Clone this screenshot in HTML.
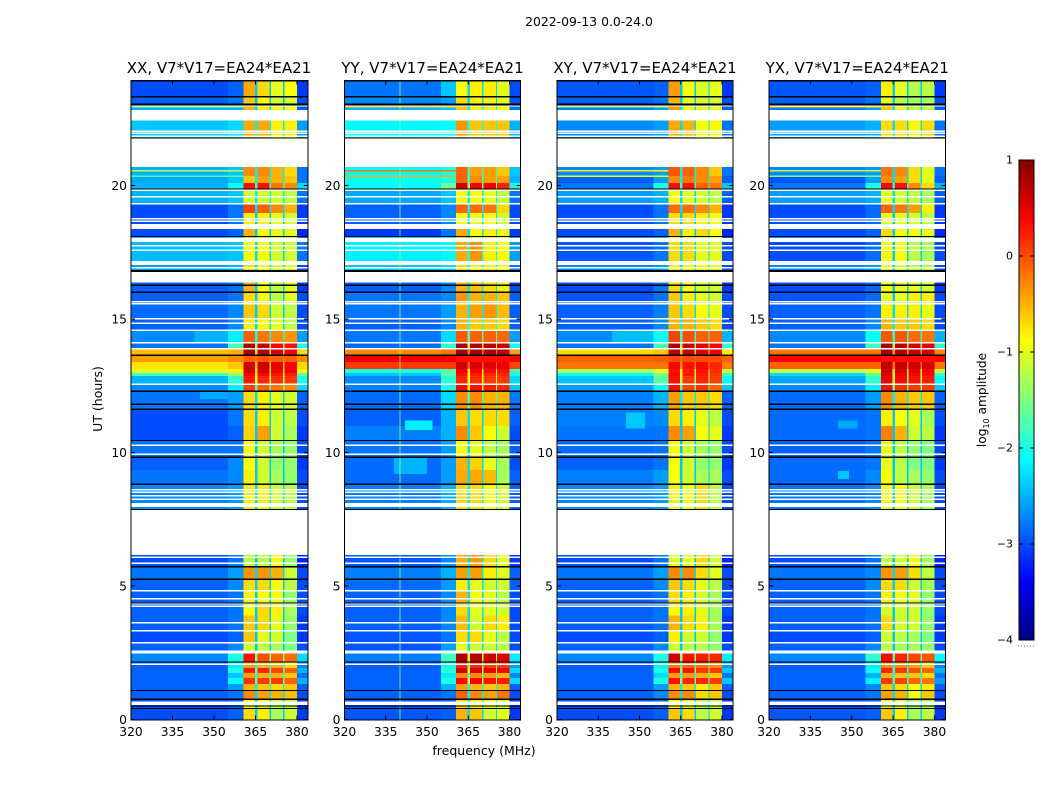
<!DOCTYPE html>
<html>
<head>
<meta charset="utf-8">
<title>2022-09-13 0.0-24.0</title>
<style>
html,body{margin:0;padding:0;background:#fff;}
svg{display:block;}
text{font-family:"DejaVu Sans","Liberation Sans",sans-serif;fill:#000;}
</style>
</head>
<body>
<svg id="figure" xmlns="http://www.w3.org/2000/svg" width="1050" height="800" viewBox="0 0 1050 800">
<rect width="1050" height="800" fill="#fff"/>
<text x="589" y="26" text-anchor="middle" font-size="12.4">2022-09-13 0.0-24.0</text>
<text x="484" y="755" text-anchor="middle" font-size="12.5">frequency (MHz)</text>
<text transform="translate(102,399) rotate(-90)" text-anchor="middle" font-size="12.5">UT (hours)</text>
<text transform="translate(986,400) rotate(-90)" text-anchor="middle" font-size="12.2">log<tspan font-size="8" dy="3">10</tspan><tspan dy="-3"> amplitude</tspan></text>
</svg>
<script>
// ---- shared axes data ----
const panelTitles = ['XX, V7*V17=EA24*EA21','YY, V7*V17=EA24*EA21','XY, V7*V17=EA24*EA21','YX, V7*V17=EA24*EA21'];
const freqTicks = [320,335,350,365,380];
const utTicks = [0,5,10,15,20];
const colorbarTicks = [1,0,-1,-2,-3,-4];
const colorbarLabels = ['1','0','\u22121','\u22122','\u22123','\u22124'];

// frequency bins (MHz); binLevelIndex says which entry of a row each bin reads
const freqBins = [320,355,360.6,364.8,365.7,370,370.6,375,375.5,380,384];
const binLevelIndex = [0,1,2,6,3,6,4,6,5,7];

// time bands (UT hours)
const bandEdges = [0,.41,.76,1.09,1.33,1.55,1.74,1.93,2.15,2.48,2.9,3.33,3.9,4.33,4.83,5.25,5.71,6.16,7.87,8.81,9.34,9.82,10.45,11,11.62,12.29,12.57,12.87,12.97,13.13,13.39,13.64,13.88,14.14,14.59,15.04,15.6,16.01,16.42,16.8,17.17,17.88,18.11,18.37,18.97,19.31,19.87,20.09,20.36,20.69,21.78,22.47,22.83,23.03,23.32,23.93];

// flagged (missing) data, UT hours
const flaggedBands = [[22.51,22.83],[20.69,21.77],[18.37,18.56],[17.88,18.03],[17.02,17.17],[16.42,16.72],[7.96,8.11],[6.16,7.85],[2.48,2.58],[0.54,0.67]];
const flaggedLines = [22.99,22.47,22.03,21.95,21.84,19.82,19.57,19.31,18.75,18.66,17.74,17.58,16.91,16.40,15.64,15.57,15.01,14.84,14.58,14.11,13.88,12.55,10.27,9.93,8.61,8.52,8.38,8.25,6.07,5.85,4.83,4.52,4.33,4.25,3.63,3.33,2.88,2.07];
// zero-amplitude integrations, UT hours
const zeroLines = [23.91,23.32,23.05,23.01,21.78,19.87,18.09,16.81,16.78,16.26,16.00,13.64,12.29,11.81,11.62,10.45,9.82,8.81,7.87,5.73,5.71,5.25,4.36,2.15,1.09,0.76,0.51,0.41];

// rows: [background, near-band, band1, band2, band3, band4, band-gap, tail] log10 amplitude
const xxLevels = [
[-3,-2.9,-.7,-.8,-1.3,-1.1,-2.4,-3.1],[-3,-2.9,-.9,-1,-1.2,-1.2,-2.4,-3.1],[-2.9,-2.8,-.3,-.4,-.5,-.55,-2.3,-3],[-2.9,-2.6,-.5,-.6,-.7,-.6,-2.2,-2.9],
[-2.9,-2.1,.15,.1,.1,-.1,-1.6,-2.5],[-2.9,-2.4,-.4,-.5,-.5,-.6,-2,-2.8],[-2.9,-2,.25,.2,.05,-.1,-1.6,-2.5],[-2.9,-2.2,-.4,-.5,-.5,-.7,-2,-2.7],
[-2.7,-2,.3,0,-.1,-.15,-1.5,-2.3],[-2.9,-2.7,-1.1,-1.2,-1.3,-1.5,-2.4,-3],[-3,-2.9,-.6,-1,-1.1,-1.5,-2.4,-3.1],[-2.9,-2.8,-.6,-.7,-1,-1.4,-2.4,-3.1],
[-2.9,-2.8,-.9,-.7,-.8,-1.3,-2.4,-3],[-2.9,-2.8,-.8,-.9,-.9,-1.4,-2.4,-3],[-2.9,-2.7,-.7,-.7,-.9,-1.2,-2.4,-3],[-2.8,-2.6,-.35,-.35,-.5,-1.1,-2.3,-3],
[-3,-2.8,-1.2,-1.2,-.9,-1.4,-2.4,-3.2],null,[-2.7,-2.6,-.8,-.8,-1.1,-1.2,-2.3,-3],[-2.8,-2.7,-.8,-1.1,-1.3,-1.4,-2.4,-3],
[-2.9,-2.7,-.9,-1.1,-1.4,-1.4,-2.4,-3.1],[-2.8,-2.8,-.9,-1.1,-1.3,-1.4,-2.4,-3],[-3,-2.9,-.65,-.4,-1.1,-1.3,-2.4,-3.1],[-3,-2.8,-.7,-.8,-1.1,-1.2,-2.4,-3],
[-2.8,-2.6,-.7,-.8,-1,-1.1,-2.3,-2.9],[-2.7,-2.2,.05,-.1,-.2,-.3,-1.7,-2.3],[-2.5,-1.9,.25,.2,.15,.1,-1,-2],[-1.8,-1.4,.4,.35,.3,.25,-.8,-1.6],
[-1,-.8,.6,.6,.45,.45,-.7,-.9],[-.75,-.6,.6,.6,.5,.4,-.6,-.7],[-.4,-.3,-.1,-.05,-.1,-.1,-.2,-.3],[-.55,-.5,.8,.75,.55,.4,-.7,-.7],
[-2.8,-1.8,.8,.7,.4,.3,-1.4,-2],[-2.7,-2.2,-.1,-.2,-.3,-.35,-2,-2.6],[-2.9,-2.7,-.8,-.9,-1,-1.2,-2.3,-3],[-2.85,-2.7,-.6,-.7,-1.1,-1.2,-2.4,-3],
[-2.9,-2.8,-.7,-.9,-1.2,-1,-2.4,-3],[-2.9,-2.8,-.5,-.9,-1.2,-1,-2.4,-3.1],null,[-2.6,-2.5,-.7,-.9,-1.1,-1,-2.3,-3],
[-2.45,-2.4,-.9,-.9,-1.1,-1.1,-2.3,-2.8],[-2.4,-2.3,-.6,-.7,-.8,-.9,-2.2,-2.8],[-3,-2.9,-.5,-.9,-1,-1,-2.4,-3.2],
[-3,-2.8,-.8,-.8,-1,-1.1,-2.4,-3.1],[-3,-2.8,.05,-.1,-.3,-.5,-2.3,-3.1],[-2.5,-2.4,-1.1,-1.1,-1.1,-1.2,-2.2,-2.8],[-2.5,-2.1,.3,.3,-.2,-.3,-1.8,-2.3],
[-2.55,-2.4,-.6,-.4,-.5,-.6,-2.2,-2.8],[-2.5,-2.4,-.3,-.3,-.5,-.7,-2.2,-2.8],null,[-2.4,-2.3,-.45,-.45,-.8,-.8,-2.2,-2.6],
null,[-2.5,-2.5,-.5,-.8,-.9,-.9,-2.3,-2.9],[-2.9,-2.8,-.6,-.9,-1.1,-1.1,-2.4,-3],[-3,-2.9,-.45,-.7,-1,-.9,-2.4,-3.1]];
const yyLevels = [
[-2.95,-2.9,-.5,-.6,-1.1,-1,-2.3,-3.1],[-2.95,-2.9,-.7,-.8,-1,-1.1,-2.3,-3.1],[-2.9,-2.8,-.1,-.3,-.4,-.2,-2.2,-3],[-2.9,-2.5,-.4,-.5,-.6,-.5,-2.1,-2.9],
[-2.9,-2,.35,.4,.3,.25,-1.2,-2.3],[-2.9,-2.2,-.3,-.3,-.4,-.5,-1.8,-2.7],[-2.9,-1.9,.6,.6,.5,.4,-1,-2.3],[-2.9,-2.1,.2,.2,.1,.1,-1.4,-2.6],
[-2.75,-1.8,.8,.75,.6,.55,-.9,-2.2],[-2.95,-2.6,-1,-1.1,-1.1,-1.2,-2.3,-3],[-2.95,-2.8,-.7,-.7,-1,-1.2,-2.3,-3],[-2.9,-2.7,-.55,-1.1,-.7,-.8,-2.3,-3],
[-2.9,-2.7,-.7,-1,-1,-1.1,-2.3,-3],[-2.9,-2.7,-.5,-.9,-1,-1.2,-2.3,-3],[-2.85,-2.6,-.8,-1,-1.1,-1.1,-2.3,-2.9],[-2.75,-2.5,-.4,-.4,-.8,-1,-2.2,-2.9],
[-2.95,-2.7,-.5,-.4,-.7,-1,-2.3,-3.1],null,[-2.75,-2.5,-.7,-.7,-.9,-1.1,-2.2,-2.9],[-2.85,-2.6,-.45,-.45,-.55,-1.3,-2.3,-2.9],
[-2.85,-2.6,-.5,-.65,-1,-1.3,-2.3,-3],[-2.8,-2.6,-.9,-1,-1.2,-1.3,-2.3,-2.9],[-2.75,-2.5,-.3,-.6,-.9,-1.1,-2.3,-3],[-2.9,-2.5,-.6,-.7,-.7,-.7,-2.3,-2.9],
[-2.85,-2.3,-.3,-.3,-.5,-.5,-1.8,-2.8],[-2.75,-2,.35,.3,.25,.2,-.8,-2.4],[-2.7,-1.9,.2,.15,.1,.1,-.9,-2.3],[-2.4,-1.7,.3,.25,.2,.2,-.9,-2],
[-2,-1.7,.45,.4,.35,.3,-.8,-1.8],[.1,.1,.6,.55,.5,.45,-.1,.05],[.45,.45,.3,.3,.3,.3,.3,.4],[-.3,-.2,.85,.8,.75,.7,-.2,-.4],
[-2.85,-1.9,.8,.75,.7,.65,-1,-2.1],[-2.8,-2.3,-.05,-.1,-.1,-.15,-1.7,-2.6],[-2.9,-2.7,-.5,-.6,-.6,-.7,-2,-2.9],[-2.8,-2.6,-.5,-.4,-.35,-.55,-2.2,-2.9],
[-2.8,-2.7,-.35,-.5,-.5,-.6,-2.2,-2.9],[-2.9,-2.7,-.5,-.6,-.7,-.8,-2.3,-3],null,[-2.4,-2.3,-.7,-.8,-.8,-.9,-2.1,-2.8],
[-2.2,-2.15,-.45,-.35,-.8,-.9,-2,-2.6],[-2.3,-2.2,-.7,-.8,-.8,-.9,-2.1,-2.6],[-3.1,-2.8,-.45,-.9,-.8,-1,-2.3,-3.1],
[-2.9,-2.7,-.9,-1,-.9,-1.1,-2.3,-3],[-2.9,-2.7,-.1,-.15,-.2,-.7,-2.2,-3],[-2.55,-2.4,-.9,-.9,-1,-1.2,-2.2,-2.8],[-2.1,-1.6,.6,.45,.45,.2,-1.3,-2],
[-2.1,-2,-.1,-.3,-.4,-.4,-1.9,-2.5],[-2.15,-2,-.1,-.4,-.4,-.6,-1.9,-2.4],null,[-2.15,-2.1,-.35,-.6,-.6,-.6,-2,-2.5],
null,[-2.5,-2.4,-.6,-.8,-.8,-.9,-2.2,-2.8],[-2.7,-2.6,-.7,-.8,-.8,-1,-2.3,-3],[-2.8,-2.4,-.9,-.8,-.8,-1,-2.3,-3]];
const xyLevels = [
[-3,-2.9,-.6,-.7,-1.2,-1.1,-2.4,-3.1],[-3,-2.9,-.9,-1,-1.3,-1.2,-2.4,-3.1],[-2.9,-2.7,-.3,-.3,-.7,-.6,-2.3,-3],[-2.9,-2.6,-.5,-.6,-.8,-.6,-2.2,-2.9],
[-2.9,-2,.3,.2,.2,.1,-1.5,-2.4],[-2.9,-2.3,-.4,-.4,-.5,-.6,-2,-2.8],[-2.9,-2,.35,.3,.1,.1,-1.5,-2.4],[-2.9,-2.2,-.2,-.1,-.2,-.3,-1.9,-2.6],
[-2.7,-2,.6,.3,.25,.2,-1.4,-2.2],[-2.9,-2.7,-1.1,-1.2,-1.2,-1.4,-2.4,-3],[-3,-2.9,-.8,-1.1,-1.1,-1.4,-2.4,-3.1],[-2.9,-2.8,-.5,-.7,-.8,-1.3,-2.4,-3.1],
[-2.9,-2.8,-.9,-.8,-1,-1.3,-2.4,-3],[-2.9,-2.8,-.7,-.8,-1.1,-1.3,-2.4,-3],[-2.9,-2.7,-.6,-.7,-1,-1.2,-2.4,-3],[-2.8,-2.6,-.3,-.3,-.7,-1,-2.3,-3],
[-3,-2.8,-1,-1,-.7,-1.1,-2.4,-3.2],null,[-2.7,-2.6,-.8,-.9,-.7,-1.2,-2.3,-3],[-2.75,-2.6,-.9,-1.1,-1.3,-1.3,-2.4,-3],
[-2.9,-2.8,-.9,-1.1,-1.4,-1.4,-2.4,-3.1],[-2.85,-2.8,-.9,-1.1,-1.3,-1.4,-2.4,-3],[-2.8,-2.8,-.3,-.4,-.9,-1,-2.4,-3.1],[-2.75,-2.7,-.7,-.8,-1,-1.2,-2.4,-3],
[-2.75,-2.5,-.4,-.6,-.6,-.7,-2.2,-2.9],[-2.6,-2.1,.3,.05,.15,-.1,-1.7,-2.4],[-2.4,-1.7,.3,.1,.2,.05,-1.3,-2.1],[-2.1,-1.5,.35,.3,.25,.1,-1,-1.7],
[-1.3,-1,.3,.25,.3,.15,-.8,-1.2],[-.2,-.2,.35,.3,.35,.2,-.3,-.25],[-.1,-.05,0,0,0,0,-.1,-.1],[-.7,-.6,.7,.65,.55,.45,-.7,-.8],
[-2.8,-1.8,.75,.65,.5,.4,-1.3,-1.9],[-2.7,-2.1,.05,0,-.1,-.1,-1.9,-2.5],[-2.9,-2.7,-.5,-.5,-.6,-.7,-2.2,-3],[-2.9,-2.75,-.6,-.7,-.9,-1,-2.3,-3],
[-2.95,-2.8,-.6,-.8,-1,-1.1,-2.4,-3],[-3,-2.8,-.7,-.9,-1.1,-1.1,-2.4,-3.1],null,[-2.7,-2.6,-.8,-.9,-1,-1,-2.3,-3],
[-2.95,-2.8,-.7,-.7,-1,-1,-2.3,-3],[-2.6,-2.5,-.8,-.9,-1,-1,-2.3,-2.9],[-3,-2.9,-.5,-.8,-.7,-.9,-2.4,-3.2],
[-3,-2.8,-.7,-.7,-.8,-.9,-2.4,-3.1],[-3,-2.8,-.15,-.15,-.3,-.5,-2.3,-3.1],[-2.6,-2.5,-.9,-1,-1.1,-1.2,-2.3,-2.9],[-2.8,-2,.3,.3,-.1,-.2,-1.8,-2.4],
[-2.9,-2.6,-.3,-.2,-.3,-.4,-2.2,-2.9],[-2.7,-2.6,-.05,-.1,-.3,-.6,-2.2,-2.8],null,[-2.7,-2.6,-.45,-.5,-.9,-.85,-2.3,-2.8],
null,[-2.75,-2.6,-.4,-.9,-1,-1,-2.3,-2.9],[-2.9,-2.8,-.5,-1,-1.1,-1.1,-2.4,-3],[-2.95,-2.9,-.4,-.9,-1.05,-1,-2.4,-3.1]];
const yxLevels = [
[-2.95,-2.9,-.6,-.8,-1.3,-1.2,-2.4,-3.1],[-3,-2.9,-1,-1.1,-1.4,-1.3,-2.4,-3.1],[-2.9,-2.8,-.4,-.5,-.9,-.6,-2.3,-3],[-2.9,-2.7,-.6,-.7,-.9,-.8,-2.3,-2.9],
[-2.9,-2.2,.1,.05,-.1,-.2,-1.8,-2.6],[-2.9,-2.5,-.5,-.6,-.6,-.7,-2.1,-2.8],[-2.9,-2.1,.2,.1,0,-.1,-1.8,-2.5],[-2.9,-2.2,-.3,-.3,-.4,-.6,-2.1,-2.7],
[-2.7,-1.9,.35,.2,.05,-.05,-1.7,-2.1],[-2.9,-2.7,-1.2,-1.3,-1.3,-1.4,-2.4,-3],[-3,-2.9,-1.1,-1.2,-1.3,-1.5,-2.4,-3.1],[-2.9,-2.8,-.7,-1.1,-1.1,-1.4,-2.4,-3.1],
[-2.9,-2.8,-1.1,-1.1,-1.1,-1.4,-2.4,-3],[-2.9,-2.8,-.8,-.9,-1,-1.4,-2.4,-3],[-2.9,-2.7,-.7,-.7,-1.1,-1.3,-2.4,-3],[-2.8,-2.7,-.35,-.4,-.7,-1.2,-2.3,-3],
[-3,-2.8,-1.2,-1.1,-.9,-1.3,-2.4,-3.2],null,[-2.8,-2.7,-.9,-.9,-1.1,-1.3,-2.4,-3],[-2.85,-2.7,-.9,-1.2,-1.3,-1.4,-2.4,-3],
[-2.85,-2.8,-1,-1.2,-1.5,-1.5,-2.4,-3.1],[-2.9,-2.8,-1,-1.2,-1.4,-1.5,-2.4,-3],[-2.85,-2.8,-.25,-.5,-1.1,-1.2,-2.4,-3.1],[-2.85,-2.8,-.8,-.9,-1,-1.3,-2.4,-3],
[-2.85,-2.6,-.3,-.5,-.6,-.6,-2.2,-2.9],[-2.7,-2.2,.3,.15,.1,.1,-1.6,-2.4],[-2.55,-1.9,.45,.35,.3,.25,-1.2,-2.1],[-2.3,-1.6,.55,.45,.4,.35,-1,-1.8],
[-1.2,-1,.6,.55,.5,.45,-.8,-1.2],[-.1,-.1,.7,.65,.6,.55,-.2,-.2],[.4,.4,.3,.3,.3,.3,.35,.35],[-.2,-.2,.8,.75,.65,.55,-.4,-.3],
[-2.8,-1.8,.8,.7,.6,.5,-1.3,-1.9],[-2.7,-2.1,-.05,-.05,-.15,-.2,-1.9,-2.5],[-2.9,-2.7,-.5,-.6,-.6,-.7,-2.2,-3],[-2.9,-2.8,-.8,-.8,-.8,-1,-2.3,-3],
[-2.95,-2.85,-1,-1,-.8,-.8,-2.4,-3],[-3,-2.85,-.9,-1,-1,-1.1,-2.4,-3.1],null,[-2.7,-2.6,-1,-1.1,-1.2,-1.2,-2.3,-3],
[-3,-2.85,-.9,-.9,-1.2,-1.3,-2.4,-3],[-2.65,-2.6,-.9,-1.1,-1.2,-1.3,-2.3,-2.9],[-3,-2.9,-.7,-.9,-.9,-1,-2.4,-3.2],
[-3,-2.85,-1,-1,-1.1,-1.2,-2.4,-3.1],[-3,-2.85,-.1,-.2,-.4,-.8,-2.3,-3.1],[-2.6,-2.5,-1,-1.1,-1.2,-1.3,-2.3,-2.9],[-2.8,-2,.35,.3,-.3,-.7,-1.9,-2.5],
[-2.95,-2.6,-.3,-.4,-.7,-1,-2.3,-2.9],[-2.7,-2.6,-.2,-.3,-.7,-1,-2.3,-2.8],null,[-2.6,-2.5,-.7,-.7,-.85,-.7,-2.3,-2.8],
null,[-2.75,-2.6,-.6,-1,-1.2,-1.2,-2.3,-2.9],[-2.9,-2.8,-1,-1.2,-1.3,-1.3,-2.4,-3],[-2.95,-2.9,-.8,-1,-1.25,-1.2,-2.4,-3.1]];
const panelLevels = [xxLevels, yyLevels, xyLevels, yxLevels];

// single RFI channel visible only in YY: [panel index, MHz, log10 amplitude]
const rfiChannels = [[1,340,-1.3]];
// narrowband-in-time stripes across the low band: [panel index, UT, log10 amplitude]
const rfiStripes = [[0,20.55,-1.2],[0,20.35,-1.7],[0,22.94,-1.5],[1,20.55,-.2],[1,20.35,-.5],[1,22.94,-.6],[2,20.55,-.8],[2,20.35,-1],[2,22.94,-1.3],[3,20.55,-1.1],[3,20.35,-1.5],[3,22.94,-.7]];
// faint diffuse patches: [panel index, MHz low, MHz high, UT low, UT high, log10 amplitude]
const diffusePatches = [[0,343,355,14.14,14.58,-2.5],[0,345,355,12.0,12.29,-2.55],[1,342,352,10.85,11.2,-2.2],[1,338,350,9.2,9.8,-2.5],[2,345,352,10.9,11.5,-2.4],[2,340,355,14.14,14.58,-2.45],[3,345,352,10.9,11.2,-2.55],[3,345,349,9.0,9.3,-2.4]];

// ---- layout (not data) ----
const NS = 'http://www.w3.org/2000/svg';
const svg = document.getElementById('figure');
const panelLeft = [131,344.5,557,769];
const panelRight = [308,520.5,733,945.5];
const plotTop = 80, plotBottom = 719.5;
const freqMin = 320, freqMax = 384, utMin = 0, utMax = 23.95;
const cbarLeft = 1019, cbarRight = 1034, cbarTop = 160, cbarBottom = 640, vMin = -4, vMax = 1;

function yScale(ut){ return plotBottom - (ut-utMin)/(utMax-utMin)*(plotBottom-plotTop); }
function xScale(panel,f){ return panelLeft[panel] + (f-freqMin)/(freqMax-freqMin)*(panelRight[panel]-panelLeft[panel]); }
function cbarScale(v){ return cbarBottom - (v-vMin)/(vMax-vMin)*(cbarBottom-cbarTop); }
function jet(v){
  const t = Math.max(0,Math.min(1,(v-vMin)/(vMax-vMin)));
  const c = x => Math.round(255*Math.max(0,Math.min(1,1.5-Math.abs(4*t-x))));
  return 'rgb('+c(3)+','+c(2)+','+c(1)+')';
}
function make(tag,attrs,parent){
  const el = document.createElementNS(NS,tag);
  for(const k in attrs) el.setAttribute(k,attrs[k]);
  parent.appendChild(el);
  return el;
}

panelTitles.forEach(function(title,p){
  const g = make('g',{},svg);
  
  
  const L = panelLeft[p], R = panelRight[p];

  const levels = panelLevels[p];
  levels.forEach(function(row,r){
    if(!row) return;
    const y0 = yScale(bandEdges[r+1]), y1 = yScale(bandEdges[r]);
    binLevelIndex.forEach(function(idx,b){
      const x0 = xScale(p,freqBins[b]), x1 = xScale(p,freqBins[b+1]);
      const cell = make('rect',{x:x0,y:y0,width:x1-x0,height:y1-y0,fill:jet(row[idx]),'shape-rendering':'crispEdges'},g);
      
      
    });
  });

  diffusePatches.filter(function(d){return d[0]===p;}).forEach(function(d){
    const el = make('rect',{x:xScale(p,d[1]),y:yScale(d[4]),width:xScale(p,d[2])-xScale(p,d[1]),height:yScale(d[3])-yScale(d[4]),fill:jet(d[5]),'shape-rendering':'crispEdges'},g);
    
    
  });

  rfiStripes.filter(function(s){return s[0]===p;}).forEach(function(s){
    const el = make('rect',{x:L,y:yScale(s[1])-0.75,width:xScale(p,freqBins[2])-L,height:1.5,fill:jet(s[2]),'shape-rendering':'crispEdges'},g);
    
    
  });

  rfiChannels.filter(function(c){return c[0]===p;}).forEach(function(c){
    const ch = make('rect',{x:xScale(p,c[1]),y:yScale(utMax),width:1,height:plotBottom-plotTop,fill:jet(c[2]),opacity:0.8,'shape-rendering':'crispEdges'},g);
    
    
  });

  flaggedBands.forEach(function(b){
    const el = make('rect',{x:L,y:yScale(b[1]),width:R-L,height:yScale(b[0])-yScale(b[1]),fill:'#fff','shape-rendering':'crispEdges'},g);
    
    
  });
  flaggedLines.forEach(function(u){
    const el = make('rect',{x:L,y:yScale(u)-0.75,width:R-L,height:1.5,fill:'#fff','shape-rendering':'crispEdges'},g);
    
    
  });
  zeroLines.forEach(function(u){
    const el = make('rect',{x:L,y:yScale(u)-0.6,width:R-L,height:1.2,fill:'#000','shape-rendering':'crispEdges'},g);
    
    
  });

  const frame = make('rect',{x:L,y:plotTop+0.5,width:R-L,height:plotBottom-plotTop,fill:'none',stroke:'#000','stroke-width':1},g);
  
  

  const ttl = make('text',{x:(L+R)/2-(p===0?0.5:0),y:73,'text-anchor':'middle','font-size':15},g);
  ttl.textContent = title;
  
  

  freqTicks.forEach(function(f){
    const x = xScale(p,f);
    const t1 = make('line',{x1:x,x2:x,y1:plotBottom,y2:plotBottom-4,stroke:'#000','stroke-width':1},g);
    
    
    const t2 = make('line',{x1:x,x2:x,y1:plotTop+0.5,y2:plotTop+4.5,stroke:'#000','stroke-width':1},g);
    
    
    const lab = make('text',{x:x,y:736,'text-anchor':'middle','font-size':12.3},g);
    lab.textContent = f;
    
    
  });
  utTicks.forEach(function(u){
    const y = yScale(u);
    const t1 = make('line',{x1:L,x2:L+4,y1:y,y2:y,stroke:'#000','stroke-width':1},g);
    
    
    const t2 = make('line',{x1:R,x2:R-4,y1:y,y2:y,stroke:'#000','stroke-width':1},g);
    
    
    const lab = make('text',{x:L-4,y:y+4.5,'text-anchor':'end','font-size':12.3},g);
    lab.textContent = u;
    
    
  });
});

// colorbar
const cb = make('g',{},svg);


for(let y=cbarTop; y<cbarBottom; y+=2){
  const v = vMax - (y+1-cbarTop)/(cbarBottom-cbarTop)*(vMax-vMin);
  const s = make('rect',{x:cbarLeft,y:y,width:cbarRight-cbarLeft,height:2,fill:jet(v),'shape-rendering':'crispEdges'},cb);
  
  
}
const cbFrame = make('rect',{x:cbarLeft,y:cbarTop,width:cbarRight-cbarLeft,height:cbarBottom-cbarTop,fill:'none',stroke:'#000','stroke-width':1},cb);


colorbarTicks.forEach(function(v,i){
  const y = cbarScale(v);
  const a = make('line',{x1:cbarLeft,x2:cbarLeft+4,y1:y,y2:y,stroke:'#000','stroke-width':1},cb);
  
  
  const b = make('line',{x1:cbarRight,x2:cbarRight-4,y1:y,y2:y,stroke:'#000','stroke-width':1},cb);
  
  
  const lab = make('text',{x:1013,y:y+3.5,'text-anchor':'end','font-size':11},cb);
  lab.textContent = colorbarLabels[i];
  
  
});
const dots = make('line',{x1:1018,x2:1034,y1:646,y2:646,stroke:'#777','stroke-width':1,'stroke-dasharray':'1 2'},cb);


</script>
</body>
</html>
